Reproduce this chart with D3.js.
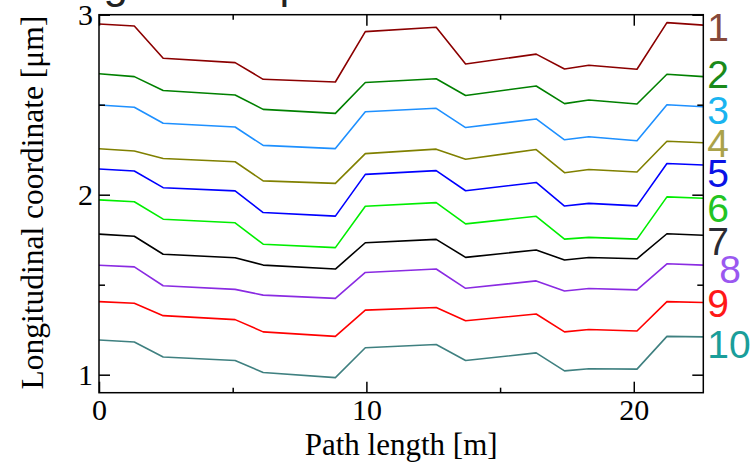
<!DOCTYPE html>
<html>
<head>
<meta charset="utf-8">
<script src="https://cdn.jsdelivr.net/npm/d3@7"></script>
<style>
  html, body { margin: 0; padding: 0; background: #fff; }
  svg { display: block; }
</style>
</head>
<body>
<svg id="chart" width="756" height="468"></svg>
<script>
// ---------------- data ----------------
const pathLength = [0, 1.32, 2.40, 5.09, 6.14, 8.84, 9.96, 12.61, 13.71, 16.35, 17.41, 18.32, 20.12, 21.24, 22.6];

const line1  = [2.948, 2.937, 2.758, 2.734, 2.641, 2.626, 2.906, 2.930, 2.726, 2.781, 2.698, 2.719, 2.697, 2.956, 2.942];
const line2  = [2.672, 2.656, 2.579, 2.554, 2.474, 2.452, 2.623, 2.644, 2.551, 2.604, 2.506, 2.526, 2.504, 2.669, 2.656];
const line3  = [2.498, 2.486, 2.397, 2.376, 2.274, 2.256, 2.461, 2.480, 2.373, 2.421, 2.305, 2.322, 2.300, 2.500, 2.489];
const line4  = [2.255, 2.243, 2.201, 2.183, 2.077, 2.063, 2.228, 2.253, 2.197, 2.251, 2.122, 2.140, 2.126, 2.297, 2.289];
const line5  = [2.143, 2.132, 2.039, 2.021, 1.901, 1.881, 2.113, 2.134, 2.022, 2.068, 1.937, 1.952, 1.938, 2.173, 2.165];
const line6  = [1.971, 1.961, 1.864, 1.844, 1.725, 1.706, 1.936, 1.956, 1.838, 1.880, 1.753, 1.763, 1.753, 1.988, 1.980];
const line7  = [1.781, 1.769, 1.669, 1.650, 1.609, 1.587, 1.733, 1.752, 1.652, 1.693, 1.637, 1.651, 1.644, 1.783, 1.775];
const line8  = [1.608, 1.599, 1.494, 1.474, 1.442, 1.424, 1.568, 1.587, 1.480, 1.521, 1.465, 1.479, 1.471, 1.616, 1.609];
const line9  = [1.406, 1.397, 1.328, 1.306, 1.238, 1.213, 1.359, 1.373, 1.300, 1.337, 1.238, 1.251, 1.243, 1.406, 1.401];
const line10 = [1.193, 1.182, 1.098, 1.079, 1.012, 0.984, 1.150, 1.168, 1.079, 1.121, 1.021, 1.033, 1.031, 1.213, 1.210];

const seriesLabels = ["1", "2", "3", "4", "5", "6", "7", "8", "9", "10"];
const lineColors  = ["#8b0000", "#008000", "#1e90ff", "#808000", "#0000ff", "#00ee00", "#000000", "#8a2be2", "#ff0000", "#3f8080"];
const labelColors = ["#86493b", "#1a8a1a", "#1ab4f0", "#aaa24a", "#0a12e6", "#22c422", "#2b2b33", "#9a58f0", "#ff1818", "#1a9e9a"];

const xMajorTicks = [0, 10, 20];
const xMinorTicks = [5, 15];
const yMajorTicks = [1, 2, 3];
const yMinorTicks = [1.5, 2.5];

const titleText = "Longitudinal profile";
const xTitle = "Path length [m]";
const yTitle = "Longitudinal coordinate [\u03bcm]";

// ---------------- layout ----------------
const plot = { left: 99, right: 703.3, top: 14.7, bottom: 392.7 };
const labelNudgeY = [-1, -6, 0, -3, 5, 7, 3, 1, -2.5, 4];
const labelNudgeX = [0, 0, 0, 0, 0, 0, 0, 12, 0, 0];
const serif = "'Liberation Serif', 'Times New Roman', Times, serif";
const sans = "'Liberation Sans', Arial, Helvetica, sans-serif";

const series = [line1, line2, line3, line4, line5, line6, line7, line8, line9, line10];

const svg = d3.select("#chart");

const x = d3.scaleLinear().domain([0, 22.6]).range([plot.left, plot.right]);
const y = d3.scaleLinear().domain([0.9, 3.0]).range([plot.bottom, plot.top]);

// partially visible title (cut off at the top edge in the original)
svg.append("text")
  .attr("x", 30).attr("y", -2)
  .attr("font-family", sans).attr("font-size", 44)
  .attr("fill", "#222")
  .text(titleText);

// lines
const lineGen = d3.line()
  .x((d, i) => x(pathLength[i]))
  .y(d => y(d));

svg.append("clipPath").attr("id", "plotclip")
  .append("rect")
  .attr("x", plot.left).attr("y", plot.top)
  .attr("width", plot.right - plot.left).attr("height", plot.bottom - plot.top);

svg.append("g").attr("clip-path", "url(#plotclip)")
  .selectAll("path")
  .data(series)
  .join("path")
  .attr("d", d => lineGen(d))
  .attr("fill", "none")
  .attr("stroke", (d, i) => lineColors[i])
  .attr("stroke-width", 1.6)
  .attr("stroke-linejoin", "round");

// axes
function styleAxis(g) {
  g.select(".domain").remove();
  g.selectAll(".tick line").attr("stroke", "#000").attr("stroke-width", 1.5);
  g.selectAll(".tick text").attr("font-family", serif).attr("font-size", 30).attr("fill", "#000");
}

svg.append("g").attr("transform", `translate(0,${plot.bottom})`)
  .call(d3.axisBottom(x).tickValues(xMajorTicks).tickFormat(d3.format("d")).tickSize(-11).tickPadding(6))
  .call(styleAxis);
svg.append("g").attr("transform", `translate(0,${plot.bottom})`)
  .call(d3.axisBottom(x).tickValues(xMinorTicks).tickFormat("").tickSize(-5))
  .call(styleAxis);
svg.append("g").attr("transform", `translate(0,${plot.top})`)
  .call(d3.axisTop(x).tickValues(xMajorTicks).tickFormat("").tickSize(-11))
  .call(styleAxis);
svg.append("g").attr("transform", `translate(0,${plot.top})`)
  .call(d3.axisTop(x).tickValues(xMinorTicks).tickFormat("").tickSize(-5))
  .call(styleAxis);

svg.append("g").attr("transform", `translate(${plot.left},0)`)
  .call(d3.axisLeft(y).tickValues(yMajorTicks).tickFormat(d3.format("d")).tickSize(-11).tickPadding(6))
  .call(styleAxis);
svg.append("g").attr("transform", `translate(${plot.left},0)`)
  .call(d3.axisLeft(y).tickValues(yMinorTicks).tickFormat("").tickSize(-6))
  .call(styleAxis);
svg.append("g").attr("transform", `translate(${plot.right},0)`)
  .call(d3.axisRight(y).tickValues(yMajorTicks).tickFormat("").tickSize(-11))
  .call(styleAxis);
svg.append("g").attr("transform", `translate(${plot.right},0)`)
  .call(d3.axisRight(y).tickValues(yMinorTicks).tickFormat("").tickSize(-6))
  .call(styleAxis);

// frame
svg.append("rect")
  .attr("x", plot.left).attr("y", plot.top)
  .attr("width", plot.right - plot.left).attr("height", plot.bottom - plot.top)
  .attr("fill", "none").attr("stroke", "#000").attr("stroke-width", 1.5);

// axis titles
svg.append("text")
  .attr("x", (plot.left + plot.right) / 2).attr("y", 455)
  .attr("text-anchor", "middle")
  .attr("font-family", serif).attr("font-size", 31).attr("fill", "#000")
  .text(xTitle);

svg.append("text")
  .attr("transform", `translate(43,${(plot.top + plot.bottom) / 2 - 1}) rotate(-90)`)
  .attr("text-anchor", "middle")
  .attr("font-family", serif).attr("font-size", 31.5).attr("fill", "#000")
  .text(yTitle);

// right-side series labels
svg.append("g").selectAll("text")
  .data(series)
  .join("text")
  .attr("x", (d, i) => plot.right + 4 + labelNudgeX[i])
  .attr("y", (d, i) => y(d[d.length - 1]) + 17 + labelNudgeY[i])
  .attr("font-family", sans).attr("font-size", 39)
  .attr("fill", (d, i) => labelColors[i])
  .text((d, i) => seriesLabels[i]);
</script>
</body>
</html>
